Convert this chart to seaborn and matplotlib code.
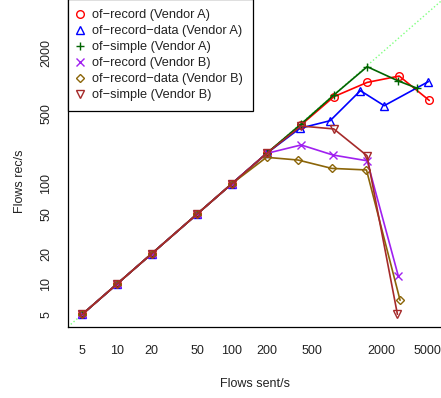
import matplotlib
matplotlib.use("Agg")
import matplotlib.pyplot as plt
import pandas as pd
import seaborn as sns

# values (log-log plot)
sent_a_record = [5, 10, 20, 50, 100, 200, 400, 770, 1500, 2850, 5200]
recv_a_record = [5, 10, 20, 50, 100, 200, 385, 735, 1020, 1180, 675]

sent_a_data = [5, 10, 20, 50, 100, 200, 390, 715, 1310, 2110, 5100]
recv_a_data = [5, 10, 20, 50, 100, 200, 356, 424, 844, 598, 1037]

sent_a_simple = [5, 10, 20, 50, 100, 200, 400, 770, 1500, 2800, 4100]
recv_a_simple = [5, 10, 20, 50, 100, 200, 393, 764, 1463, 1054, 891]

sent_b_record = [5, 10, 20, 50, 100, 200, 400, 755, 1500, 2800]
recv_b_record = [5, 10, 20, 50, 100, 200, 243, 193, 169, 12]

sent_b_data = [5, 10, 20, 50, 100, 200, 376, 738, 1480, 2900]
recv_b_data = [5, 10, 20, 50, 100, 183, 172, 142, 137, 6.9]

sent_b_simple = [5, 10, 20, 50, 100, 200, 400, 769, 1495, 2750]
recv_b_simple = [5, 10, 20, 50, 100, 200, 375, 351, 190, 5.0]

series_labels = [
    "of\u2212record (Vendor A)",
    "of\u2212record\u2212data (Vendor A)",
    "of\u2212simple (Vendor A)",
    "of\u2212record (Vendor B)",
    "of\u2212record\u2212data (Vendor B)",
    "of\u2212simple (Vendor B)",
]
x_ticks = [5, 10, 20, 50, 100, 200, 500, 1000, 2000, 5000]
x_tick_labels = ["5", "10", "20", "50", "100", "200", "500", "", "2000", "5000"]
y_ticks = [5, 10, 20, 50, 100, 200, 500, 1000, 2000, 5000]
y_tick_labels = ["5", "10", "20", "50", "100", "", "500", "", "2000", ""]

series = [
    (sent_a_record, recv_a_record, "#FF0000", "o"),
    (sent_a_data, recv_a_data, "#0000FF", "^"),
    (sent_a_simple, recv_a_simple, "#006400", "+"),
    (sent_b_record, recv_b_record, "#A020F0", "x"),
    (sent_b_data, recv_b_data, "#8B6508", "D"),
    (sent_b_simple, recv_b_simple, "#A52A2A", "v"),
]

sns.set_theme(style="white")
plt.rcParams["font.family"] = ["Liberation Sans", "DejaVu Sans"]
plt.rcParams["font.size"] = 9

fig = plt.figure(figsize=(4.41, 3.98), dpi=100)
ax = fig.add_axes([68 / 441, 71 / 398, 373 / 441, 327 / 398])
ax.set_xscale("log")
ax.set_yscale("log")

for (xs, ys, col, mk), lab in zip(series, series_labels):
    df = pd.DataFrame({"sent": xs, "recv": ys})
    ms = 4.2 if mk == "D" else 5.5
    sns.lineplot(data=df, x="sent", y="recv", ax=ax, color=col, lw=1.2,
                 marker=mk, markersize=ms, markerfacecolor="none",
                 markeredgecolor=col, markeredgewidth=1.0, label=lab,
                 legend=False)

ax.axline((10, 10), (1000, 1000), color="#7FFF7F", ls=":", lw=1.0, zorder=1)

ax.set_xlim(3.756, 6580)
ax.set_ylim(3.737, 6750)
ax.set_xticks(x_ticks)
ax.set_xticklabels(x_tick_labels)
ax.set_yticks(y_ticks)
ax.set_yticklabels(y_tick_labels, rotation=90, va="center")
ax.minorticks_off()
ax.tick_params(axis="both", direction="out", length=4.3, width=0.8,
               color="black", labelsize=9, labelcolor="#222222")
ax.tick_params(axis="x", pad=9)
ax.tick_params(axis="y", pad=7)
for side in ["top", "right"]:
    ax.spines[side].set_visible(False)
for side in ["left", "bottom"]:
    ax.spines[side].set_color("black")
    ax.spines[side].set_linewidth(0.9)

ax.set_xlabel("Flows sent/s", fontsize=9, color="#222222")
ax.set_ylabel("Flows rec/s", fontsize=9, color="#222222")
ax.xaxis.set_label_coords(0.5, -51 / 327)
ax.yaxis.set_label_coords(-42 / 373, (327 - 181) / 327)

handles = [
    plt.Line2D([], [], ls="none", marker=mk, color=col, markerfacecolor="none",
               markersize=(4.2 if mk == "D" else 5.5), markeredgewidth=1.0)
    for (_, _, col, mk) in series
]
leg = ax.legend(handles, series_labels, loc="upper left",
                bbox_to_anchor=(0, 1.003), borderaxespad=0, frameon=True,
                fancybox=False, edgecolor="black", framealpha=1,
                handlelength=0.3, handletextpad=0.8, labelspacing=0.31,
                borderpad=0.8, fontsize=9.2)
leg.get_frame().set_linewidth(0.9)
for t in leg.get_texts():
    t.set_color("#222222")

fig.savefig("out.png", dpi=100)
